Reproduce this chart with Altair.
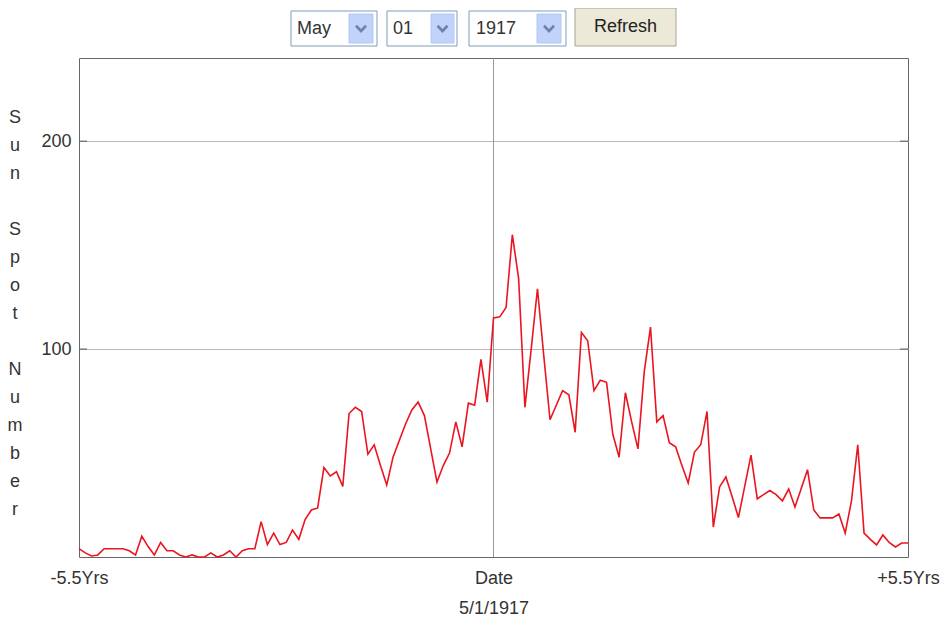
import altair as alt
import pandas as pd

# ---------------- data ----------------
months = list(range(-66, 67))  # months relative to 5/1/1917
sunspots = [
    4, 2, 0.5, 1, 4, 4, 4, 4, 3, 1,
    10, 5, 1, 7, 3, 3, 1, 0, 1, 0,
    0, 2, 0, 1, 3, 0, 3, 4, 4, 17,
    6, 11.5, 6, 7, 13, 8.5, 18, 22.6, 23.6, 43,
    39, 41, 34, 69, 72, 70, 49.5, 54, 44, 34.6,
    48, 56, 64, 70.7, 74.5, 68, 52, 36, 44, 50,
    65, 53, 74, 73, 95, 74.5, 115, 115.5, 120, 155,
    134, 72, 100, 129, 97, 66, 73, 80, 78, 60,
    108, 104, 80, 85, 84, 59, 48, 79, 65, 52,
    89, 110.6, 65, 68, 55, 53, 44, 35.6, 50.5, 54,
    70, 14.4, 33.7, 38.5, 29, 19, 34, 49, 28, 30,
    32, 30, 27, 32.7, 24, 33, 42, 22.6, 18.8, 18.8,
    18.8, 20.7, 11.5, 27, 54, 11.5, 8.5, 5.8, 10.6, 7,
    4.8, 6.7, 6.7,
]
y_ticks = [100, 200]
x_ticks = [-66, 0, 66]
x_tick_labels = ["-5.5Yrs", "Date", "+5.5Yrs"]
x_title = "5/1/1917"
y_title_letters = ["S", "u", "n", "", "S", "p", "o", "t", "", "N", "u", "m", "b", "e", "r"]
ui_texts = ["May", "01", "1917"]
button_text = "Refresh"

FONT = "Liberation Sans"
W, H = 829, 499

df = pd.DataFrame({"month": months, "ssn": sunspots})

xscale = alt.Scale(domain=[-66, 66], nice=False, zero=False)
yscale = alt.Scale(domain=[0, 240], nice=False, zero=False)

label_map = "{" + ",".join(f"'{v}':'{t}'" for v, t in zip(x_ticks, x_tick_labels)) + "}"

base_x = alt.X(
    "month:Q", scale=xscale,
    axis=alt.Axis(values=x_ticks, labelExpr=f"{label_map}[datum.value]",
                  grid=False, ticks=False, domain=False, title=x_title,
                  labelFontSize=18, labelFont=FONT, labelColor="#333",
                  labelPadding=12, titleFontSize=18, titleFont=FONT,
                  titleFontWeight="normal", titleColor="#333", titlePadding=12,
                  labelOverlap=False, labelFlush=False),
)
base_y = alt.Y(
    "ssn:Q", scale=yscale,
    axis=alt.Axis(values=y_ticks, grid=True, gridColor="#b8b8b8", ticks=False,
                  domain=False, title=None, labelFontSize=18, labelFont=FONT,
                  labelColor="#333", labelPadding=8),
)

line = alt.Chart(df).mark_line(color="#ea1520", strokeWidth=1.6).encode(x=base_x, y=base_y)

# center vertical "Date" line
center = alt.Chart(pd.DataFrame({"month": [0]})).mark_rule(color="#999", strokeWidth=1).encode(
    x=alt.X("month:Q", scale=xscale)
)

# short inner ticks at 100 / 200 on both sides
tick_df = pd.DataFrame({"ssn": y_ticks})
tick_l = alt.Chart(tick_df).mark_rule(color="#555", strokeWidth=1).encode(
    y=alt.Y("ssn:Q", scale=yscale), x=alt.value(0), x2=alt.value(8))
tick_r = alt.Chart(tick_df).mark_rule(color="#555", strokeWidth=1).encode(
    y=alt.Y("ssn:Q", scale=yscale), x=alt.value(W - 8), x2=alt.value(W))

# vertical y-axis title, one letter per row (blank rows leave gaps)
letter_rows = pd.DataFrame({
    "t": y_title_letters,
    "row": list(range(len(y_title_letters))),
})
letter_rows = letter_rows[letter_rows["t"] != ""]
ytitle = alt.Chart(letter_rows).transform_calculate(
    py="60 + datum.row * 28"
).mark_text(
    font=FONT, fontSize=18, color="#333", align="center", baseline="middle"
).encode(text="t:N", x=alt.value(-64), y=alt.Y("py:Q", scale=None))

# ---- top form controls (decoration) ----
boxes = pd.DataFrame({
    "x0": [212, 308, 390], "x1": [298, 378, 487],
    "y0": [-47, -47, -47], "y1": [-12, -12, -12],
})
btns = pd.DataFrame({
    "x0": [270, 352, 458], "x1": [294, 375, 482],
    "y0": [-44, -44, -44], "y1": [-15, -15, -15],
})
chev = pd.DataFrame({"cx": [282, 363.5, 470], "cy": [-29.5, -29.5, -29.5]})
labels = pd.DataFrame({"t": ui_texts, "lx": [218, 314, 397], "ly": [-29, -29, -29]})
refresh = pd.DataFrame({"x0": [496], "x1": [597], "y0": [-50], "y1": [-12]})

def rect_layer(d, fill, stroke, sw=1):
    return alt.Chart(d).mark_rect(fill=fill, stroke=stroke, strokeWidth=sw).encode(
        x=alt.X("x0:Q", scale=None), x2="x1:Q",
        y=alt.Y("y0:Q", scale=None), y2="y1:Q")

box_l = rect_layer(boxes, "white", "#7f9db9")
btn_l = rect_layer(btns, "#c1d3fb", "#b4c8f0")
ref_l = rect_layer(refresh, "#ece9d8", "#a9a48e")

chev_l = alt.Chart(chev).mark_point(
    shape="M-1,-0.55L0,0.5L1,-0.55", filled=False, stroke="#4d6185", strokeWidth=2.6, size=100
).encode(x=alt.X("cx:Q", scale=None), y=alt.Y("cy:Q", scale=None))

lab_l = alt.Chart(labels).mark_text(
    font=FONT, fontSize=18, color="#333", align="left", baseline="middle"
).encode(text="t:N", x=alt.X("lx:Q", scale=None), y=alt.Y("ly:Q", scale=None))

ref_txt = alt.Chart(pd.DataFrame({"t": [button_text]})).mark_text(
    font=FONT, fontSize=18, color="#222", align="center", baseline="middle"
).encode(text="t:N", x=alt.value(546.5), y=alt.value(-31))

chart = alt.layer(
    center, line, tick_l, tick_r, ytitle,
    box_l, btn_l, ref_l, chev_l, lab_l, ref_txt
).properties(
    width=W, height=H,
    autosize=alt.AutoSizeParams(type="none"),
    padding={"left": 71, "top": 50, "right": 32, "bottom": 60},
    background="white",
).configure_view(stroke="#666", strokeWidth=1)

chart.save("out.html", embed_options={"renderer": "svg", "actions": False})
